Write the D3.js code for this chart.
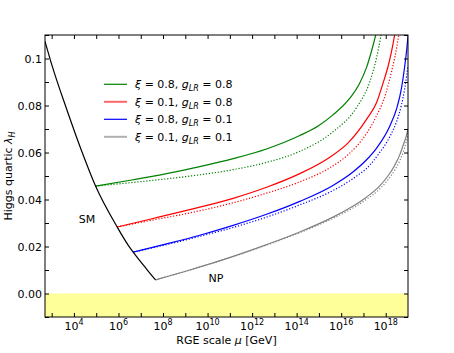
<!DOCTYPE html>
<html>
<head>
<meta charset="utf-8">
<script src="https://cdnjs.cloudflare.com/ajax/libs/d3/7.8.5/d3.min.js"></script>
<style>
body { margin: 0; background: #fff; }
text { font-family: "DejaVu Sans", sans-serif; fill: #000; }
</style>
</head>
<body>
<svg id="chart" width="454" height="353"></svg>
<script>
// exponents are log10(mu / GeV), lambda is the Higgs quartic
var smLogMu  = [2.70, 3.00, 3.67, 4.35, 4.97, 5.94, 6.44, 6.66, 7.26, 7.66];
var smLambda = [0.1073, 0.0975, 0.0785, 0.0605, 0.0457, 0.0283, 0.0205, 0.0176, 0.0104, 0.0058];

var greenLogMu     = [4.97, 6.66, 8.16, 9.65, 11.15, 12.65, 14.14, 15.00, 15.63, 16.38, 16.83, 17.13, 17.36, 17.55, 17.70];
var greenLambda    = [0.0457, 0.0484, 0.0510, 0.0540, 0.0574, 0.0615, 0.0672, 0.0715, 0.0760, 0.0830, 0.0895, 0.0960, 0.1031, 0.1100, 0.1165];
var greenDotLogMu  = [4.97, 7.19, 9.40, 11.15, 12.65, 14.14, 15.63, 16.68, 17.28, 17.58, 17.77, 17.90];
var greenDotLambda = [0.0457, 0.0478, 0.0502, 0.0527, 0.0558, 0.0605, 0.0688, 0.0790, 0.0900, 0.1000, 0.1090, 0.1170];

var redLogMu     = [5.94, 7.50, 9.20, 11.15, 12.65, 14.14, 15.49, 16.30, 17.13, 17.60, 17.88, 18.10, 18.25, 18.40, 18.50];
var redLambda    = [0.0283, 0.0318, 0.0357, 0.0405, 0.0452, 0.0510, 0.0580, 0.0640, 0.0740, 0.0815, 0.0895, 0.0965, 0.1025, 0.1100, 0.1160];
var redDotLogMu  = [5.94, 7.50, 9.20, 11.15, 12.65, 14.14, 15.49, 16.30, 17.13, 17.58, 18.00, 18.25, 18.48, 18.60, 18.70];
var redDotLambda = [0.0283, 0.0312, 0.0343, 0.0386, 0.0427, 0.0475, 0.0535, 0.0590, 0.0680, 0.0755, 0.0850, 0.0940, 0.1040, 0.1110, 0.1180];

var blueLogMu     = [6.66, 8.20, 9.65, 11.15, 12.65, 14.14, 15.63, 16.50, 17.13, 17.60, 18.18, 18.50, 18.70, 18.85, 18.95, 19.00];
var blueLambda    = [0.0176, 0.0212, 0.0248, 0.0290, 0.0337, 0.0392, 0.0460, 0.0515, 0.0568, 0.0620, 0.0712, 0.0790, 0.0870, 0.0965, 0.1045, 0.1095];
var blueDotLogMu  = [6.66, 8.20, 9.65, 11.15, 12.65, 14.14, 15.63, 16.50, 17.30, 17.65, 18.20, 18.48, 18.70, 18.85, 19.00];
var blueDotLambda = [0.0176, 0.0209, 0.0243, 0.0281, 0.0325, 0.0377, 0.0438, 0.0487, 0.0548, 0.0590, 0.0670, 0.0730, 0.0800, 0.0870, 0.0970];

var grayLogMu     = [7.66, 9.20, 11.15, 12.65, 14.14, 15.63, 16.50, 17.13, 17.70, 18.10, 18.40, 18.63, 18.80, 18.92, 19.00];
var grayLambda    = [0.0058, 0.0100, 0.0158, 0.0208, 0.0262, 0.0325, 0.0370, 0.0410, 0.0455, 0.0500, 0.0545, 0.0590, 0.0635, 0.0670, 0.0701];
var grayDotLogMu  = [7.66, 9.20, 11.15, 12.65, 14.14, 15.63, 16.50, 17.13, 17.70, 18.10, 18.40, 18.63, 18.80, 18.92, 19.00];
var grayDotLambda = [0.0058, 0.0100, 0.0157, 0.0206, 0.0259, 0.0320, 0.0362, 0.0400, 0.0442, 0.0484, 0.0524, 0.0565, 0.0605, 0.0645, 0.0684];

var legendXi  = ['0.8', '0.1', '0.8', '0.1'];
var legendGLR = ['0.8', '0.8', '0.1', '0.1'];

var xTickExps = d3.range(3, 19);
var yTickValues = [-0.01, 0, 0.01, 0.02, 0.03, 0.04, 0.05, 0.06, 0.07, 0.08, 0.09, 0.1, 0.11];
var yLabelValues = [0, 0.02, 0.04, 0.06, 0.08, 0.1];
var yLabelText = ['0.00', '0.02', '0.04', '0.06', '0.08', '0.1'];

(function() {
	var svg = d3.select('#chart');
	var pl = 45, pr = 408, pt = 35, pb = 317;

	var x = d3.scaleLog().domain([Math.pow(10, 2.7), 1e19]).range([pl, pr]);
	var y = d3.scaleLinear().domain([-0.01, 0.11]).range([pb, pt]);

	svg.append('defs').append('clipPath').attr('id', 'plotclip')
		.append('rect')
		.attr('x', pl).attr('y', pt)
		.attr('width', pr - pl).attr('height', pb - pt);

	// excluded region lambda < 0
	svg.append('rect')
		.attr('x', pl)
		.attr('y', y(0))
		.attr('width', pr - pl)
		.attr('height', y(-0.01) - y(0))
		.attr('fill', '#ffff99');

	var pairs = function(mu, lam) {
		return mu.map(function(m, i) { return [Math.pow(10, m), lam[i]]; });
	};

	var line = d3.line()
		.x(function(d) { return x(d[0]); })
		.y(function(d) { return y(d[1]); })
		.curve(d3.curveMonotoneX);

	var dots = '1.2,1.8';
	var curves = [
		{ data: pairs(greenDotLogMu, greenDotLambda), color: '#008000', dash: dots },
		{ data: pairs(greenLogMu, greenLambda), color: '#008000', dash: null },
		{ data: pairs(redDotLogMu, redDotLambda), color: '#ff0000', dash: dots },
		{ data: pairs(redLogMu, redLambda), color: '#ff0000', dash: null },
		{ data: pairs(blueDotLogMu, blueDotLambda), color: '#0000ff', dash: dots },
		{ data: pairs(blueLogMu, blueLambda), color: '#0000ff', dash: null },
		{ data: pairs(grayDotLogMu, grayDotLambda), color: '#808080', dash: dots },
		{ data: pairs(grayLogMu, grayLambda), color: '#808080', dash: null },
		{ data: pairs(smLogMu, smLambda), color: '#000000', dash: null }
	];

	var plot = svg.append('g').attr('clip-path', 'url(#plotclip)');
	plot.selectAll('path')
		.data(curves)
		.enter()
		.append('path')
		.attr('d', function(d) { return line(d.data); })
		.attr('fill', 'none')
		.attr('stroke', function(d) { return d.color; })
		.attr('stroke-width', 1.2)
		.attr('stroke-dasharray', function(d) { return d.dash; });

	// ticks on all four sides, pointing inward
	var xTicks = xTickExps.map(function(e) { return Math.pow(10, e); });
	var noDomain = function(g) { g.select('.domain').remove(); };
	svg.append('g')
		.attr('transform', 'translate(0,' + pb + ')')
		.call(d3.axisBottom(x).tickValues(xTicks).tickSize(-4).tickFormat(''))
		.call(noDomain);
	svg.append('g')
		.attr('transform', 'translate(0,' + pt + ')')
		.call(d3.axisTop(x).tickValues(xTicks).tickSize(-4).tickFormat(''))
		.call(noDomain);
	svg.append('g')
		.attr('transform', 'translate(' + pl + ',0)')
		.call(d3.axisLeft(y).tickValues(yTickValues).tickSize(-4).tickFormat(''))
		.call(noDomain);
	svg.append('g')
		.attr('transform', 'translate(' + pr + ',0)')
		.call(d3.axisRight(y).tickValues(yTickValues).tickSize(-4).tickFormat(''))
		.call(noDomain);

	svg.append('rect')
		.attr('x', pl).attr('y', pt)
		.attr('width', pr - pl).attr('height', pb - pt)
		.attr('fill', 'none')
		.attr('stroke', '#000')
		.attr('stroke-width', 1);

	// tick labels
	var xl = svg.append('g').selectAll('text')
		.data(xTickExps.filter(function(e) { return e % 2 === 0; }))
		.enter()
		.append('text')
		.attr('x', function(e) { return x(Math.pow(10, e)); })
		.attr('y', 330)
		.attr('text-anchor', 'middle')
		.attr('font-size', 11);
	xl.append('tspan').text('10');
	xl.append('tspan').attr('dy', -5).attr('font-size', 8).text(function(e) { return e; });

	svg.append('g').selectAll('text')
		.data(yLabelValues)
		.enter()
		.append('text')
		.attr('x', 42)
		.attr('y', function(d) { return y(d) + 4; })
		.attr('text-anchor', 'end')
		.attr('font-size', 11)
		.text(function(d, i) { return yLabelText[i]; });

	// axis titles
	var xt = svg.append('text')
		.attr('x', (pl + pr) / 2)
		.attr('y', 344)
		.attr('text-anchor', 'middle')
		.attr('font-size', 11);
	xt.append('tspan').text('RGE scale ');
	xt.append('tspan').attr('font-style', 'italic').text('μ');
	xt.append('tspan').text(' [GeV]');

	var yt = svg.append('text')
		.attr('transform', 'translate(12,' + ((pt + pb) / 2) + ') rotate(-90)')
		.attr('text-anchor', 'middle')
		.attr('font-size', 11);
	yt.append('tspan').text('Higgs quartic ');
	yt.append('tspan').attr('font-style', 'italic').text('λ');
	yt.append('tspan').attr('font-style', 'italic').attr('font-size', 8).attr('dy', 3).text('H');

	svg.append('text').attr('x', 87).attr('y', 223).attr('text-anchor', 'middle')
		.attr('font-size', 11).text('SM');
	svg.append('text').attr('x', 216).attr('y', 282).attr('text-anchor', 'middle')
		.attr('font-size', 11).text('NP');

	// legend
	var legendColors = ['#008000', '#ff6666', '#0000ff', '#b0b0b0'];
	var legendWidths = [1.2, 2, 1.2, 2];
	var lg = svg.append('g').selectAll('g')
		.data(legendXi)
		.enter()
		.append('g')
		.attr('transform', function(d, i) { return 'translate(104,' + (84.3 + i * 17.5) + ')'; });
	lg.append('line')
		.attr('x1', 0).attr('x2', 23)
		.attr('stroke', function(d, i) { return legendColors[i]; })
		.attr('stroke-width', function(d, i) { return legendWidths[i]; });
	var lt = lg.append('text')
		.attr('x', 31)
		.attr('y', 4)
		.attr('font-size', 11);
	lt.append('tspan').attr('font-style', 'italic').text('ξ');
	lt.append('tspan').text(function(d) { return ' = ' + d + ', '; });
	lt.append('tspan').attr('font-style', 'italic').text('g');
	lt.append('tspan').attr('font-style', 'italic').attr('font-size', 8).attr('dy', 3).text('LR');
	lt.append('tspan').attr('dy', -3).text(function(d, i) { return ' = ' + legendGLR[i]; });
})();
</script>
</body>
</html>
